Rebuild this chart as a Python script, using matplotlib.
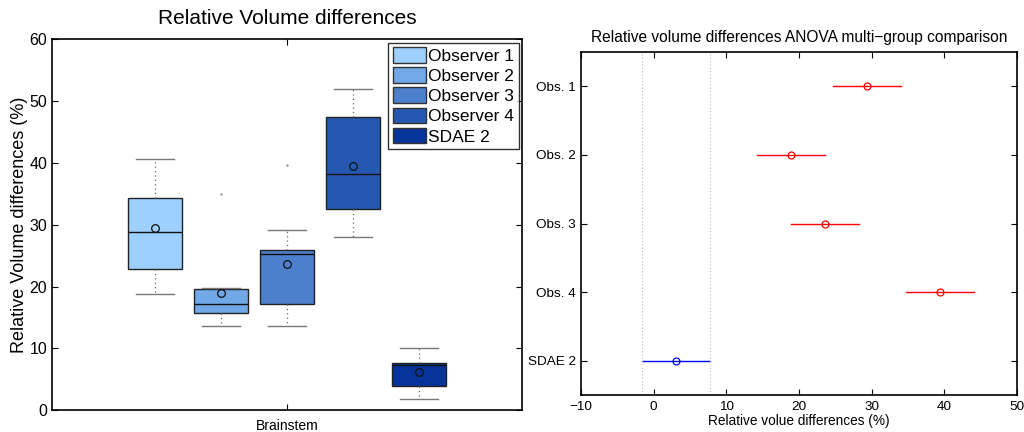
import matplotlib
matplotlib.use('Agg')
import matplotlib.pyplot as plt
from matplotlib.patches import Patch

plt.rcParams['font.family'] = ['Liberation Sans', 'DejaVu Sans']

# left panel: box statistics
groups = ['Observer 1', 'Observer 2', 'Observer 3', 'Observer 4', 'SDAE 2']
q1 = [22.9, 15.8, 17.2, 32.6, 3.9]
med = [28.8, 17.2, 25.2, 38.2, 7.3]
q3 = [34.4, 19.6, 25.9, 47.5, 7.7]
whislo = [18.75, 13.7, 13.7, 28.0, 1.8]
whishi = [40.7, 19.7, 29.1, 51.9, 10.0]
means = [29.4, 18.9, 23.6, 39.5, 6.2]
fliers = [[], [35.0], [39.7], [], []]
box_colors = ['#9dcfff', '#70a8e8', '#4c80cc', '#2558b0', '#06349a']

# right panel: ANOVA multi-group comparison
cmp_labels = ['Obs. 1', 'Obs. 2', 'Obs. 3', 'Obs. 4', 'SDAE 2']
cmp_means = [29.4, 18.9, 23.6, 39.4, 3.1]
cmp_half = [4.7, 4.7, 4.7, 4.7, 4.7]
cmp_colors = ['red', 'red', 'red', 'red', 'blue']

fig = plt.figure(figsize=(10.24, 4.32), dpi=100)

# ---- left boxplot ----
ax = fig.add_axes([0.0508, 0.0502, 0.459, 0.859])
stats = []
for i in range(len(groups)):
    stats.append(dict(med=med[i], q1=q1[i], q3=q3[i], whislo=whislo[i],
                      whishi=whishi[i], mean=means[i], fliers=fliers[i]))
positions = [0.5 + (i - 2) * 0.1404 for i in range(len(groups))]
bp = ax.bxp(stats, positions=positions, widths=0.113, patch_artist=True,
            showmeans=True, manage_ticks=False,
            boxprops=dict(edgecolor='#222222', linewidth=1.0),
            medianprops=dict(color='#111111', linewidth=1.0),
            whiskerprops=dict(color='#666666', linestyle=(0, (1, 2.5)), linewidth=0.9),
            capprops=dict(color='#777777', linewidth=1.0),
            meanprops=dict(marker='o', markerfacecolor='none', markeredgecolor='#111111',
                           markersize=5.5, markeredgewidth=0.9),
            flierprops=dict(marker='.', markersize=1.5, markerfacecolor='#999999',
                            markeredgecolor='#999999'))
for patch, c in zip(bp['boxes'], box_colors):
    patch.set_facecolor(c)
for cap in bp['caps']:
    x0, x1 = cap.get_xdata()
    xc = (x0 + x1) / 2
    cap.set_xdata([xc - 0.04, xc + 0.04])

ax.set_xlim(0, 1)
ax.set_ylim(0, 60)
ax.set_yticks([0, 10, 20, 30, 40, 50, 60])
ax.set_xticks([0.5])
ax.set_xticklabels(['Brainstem'], fontsize=10)
ax.tick_params(axis='y', labelsize=11.5, direction='in', right=True, length=4)
ax.tick_params(axis='x', direction='in', top=True, length=4, pad=6)
ax.set_ylabel('Relative Volume differences (%)', fontsize=13, labelpad=1)
ax.set_title('Relative Volume differences', fontsize=15, pad=11)
for s in ax.spines.values():
    s.set_linewidth(1.2)

handles = [Patch(facecolor=c, edgecolor='#333333', linewidth=1.0) for c in box_colors]
leg = ax.legend(handles, groups, loc='upper right', fontsize=12.5, frameon=True,
                fancybox=False, edgecolor='black', borderaxespad=0.2,
                handlelength=1.9, handleheight=1.0, handletextpad=0.15,
                labelspacing=0.2, borderpad=0.25)
leg.get_frame().set_linewidth(1.0)

# ---- right comparison plot ----
ax2 = fig.add_axes([0.5674, 0.0856, 0.4258, 0.794])
ypos = list(range(len(cmp_labels), 0, -1))
for y, m, h, c in zip(ypos, cmp_means, cmp_half, cmp_colors):
    ax2.plot([m - h, m + h], [y, y], color=c, linewidth=1.0)
    ax2.plot([m], [y], marker='o', markerfacecolor='none', markeredgecolor=c,
             markersize=5, markeredgewidth=0.9)
# reference interval of the selected group
sel = cmp_labels.index('SDAE 2')
for xv in (cmp_means[sel] - cmp_half[sel], cmp_means[sel] + cmp_half[sel]):
    ax2.axvline(xv, color='#bbbbbb', linestyle=(0, (1, 2)), linewidth=0.8)

ax2.set_xlim(-10, 50)
ax2.set_ylim(0.5, len(cmp_labels) + 0.5)
ax2.set_yticks(ypos)
ax2.set_yticklabels(cmp_labels)
ax2.set_xticks(range(-10, 51, 10))
ax2.set_xticklabels(['\u221210' if v < 0 else str(v) for v in range(-10, 51, 10)])
ax2.tick_params(labelsize=9.7, direction='in', top=True, right=True, length=4)
ax2.tick_params(axis='x', pad=4)
ax2.set_xlabel('Relative volue differences (%)', fontsize=9.8, labelpad=1)
ax2.set_title('Relative volume differences ANOVA multi\u2212group comparison',
              fontsize=11.2, pad=7)
for s in ax2.spines.values():
    s.set_linewidth(1.2)

fig.savefig('out.png', dpi=100)
